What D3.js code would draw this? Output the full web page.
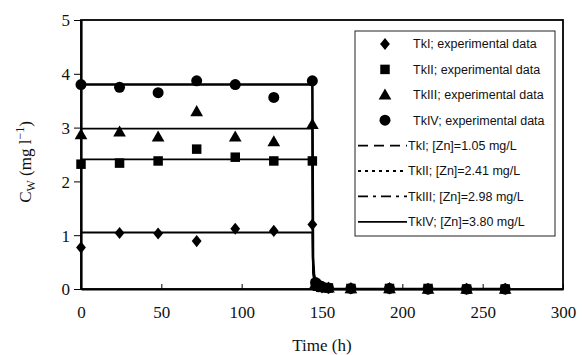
<!DOCTYPE html>
<html>
<head>
<meta charset="utf-8">
<script src="https://cdn.jsdelivr.net/npm/d3@7"></script>
<style>
  body { margin: 0; background: #fff; }
  svg { display: block; }
</style>
</head>
<body>
<div id="container"></div>
<script>
// experimental sampling times (h)
const expTimes = [0, 24, 48, 72, 96, 120, 144, 146, 148, 150, 154, 168, 192, 216, 240, 264];

// measured concentrations per tank (mg/l)
const tk1Exp = [0.77, 1.04, 1.03, 0.89, 1.12, 1.08, 1.20, 0.08, 0.05, 0.03, 0.02, 0.01, 0.01, 0.0, 0.0, 0.0];
const tk2Exp = [2.32, 2.34, 2.38, 2.60, 2.45, 2.38, 2.38, 0.10, 0.06, 0.03, 0.02, 0.01, 0.01, 0.01, 0.0, 0.0];
const tk3Exp = [2.87, 2.92, 2.83, 3.30, 2.83, 2.74, 3.06, 0.10, 0.05, 0.03, 0.02, 0.01, 0.01, 0.0, 0.0, 0.0];
const tk4Exp = [3.80, 3.75, 3.65, 3.87, 3.80, 3.56, 3.87, 0.12, 0.07, 0.04, 0.02, 0.01, 0.01, 0.0, 0.0, 0.0];

// model curves
const modelTimes = [0, 144, 144.4, 145, 146, 148, 151, 156, 264];
const tk1Model = [1.05, 1.05, 0.30, 0.15, 0.08, 0.04, 0.02, 0.0, 0.0];
const tk2Model = [2.41, 2.41, 0.45, 0.22, 0.11, 0.05, 0.02, 0.0, 0.0];
const tk3Model = [2.98, 2.98, 0.50, 0.25, 0.12, 0.05, 0.02, 0.0, 0.0];
const tk4Model = [3.80, 3.80, 0.60, 0.28, 0.13, 0.06, 0.02, 0.0, 0.0];

const xTicks = [0, 50, 100, 150, 200, 250, 300];
const yTicks = [0, 1, 2, 3, 4, 5];

const legendLabels = [
  'TkI; experimental data',
  'TkII; experimental data',
  'TkIII; experimental data',
  'TkIV; experimental data',
  'TkI; [Zn]=1.05 mg/L',
  'TkII; [Zn]=2.41 mg/L',
  'TkIII; [Zn]=2.98 mg/L',
  'TkIV; [Zn]=3.80 mg/L'
];

const width = 582, height = 355;
const margin = { top: 20, right: 19, bottom: 66, left: 81 };
const w = width - margin.left - margin.right;
const h = height - margin.top - margin.bottom;

const svg = d3.select('#container').append('svg')
  .attr('width', width)
  .attr('height', height);

const g = svg.append('g')
  .attr('transform', `translate(${margin.left},${margin.top})`);

const x = d3.scaleLinear().domain([0, 300]).range([0, w]);
const y = d3.scaleLinear().domain([0, 5]).range([h, 0]);

// frame (top & right)
g.append('rect')
  .attr('x', 0).attr('y', 0)
  .attr('width', w).attr('height', h)
  .attr('fill', 'none')
  .attr('stroke', '#000')
  .attr('stroke-width', 1.8);

// axes
const xAxis = g.append('g')
  .attr('transform', `translate(0,${h})`)
  .call(d3.axisBottom(x).tickValues(xTicks).tickFormat(d3.format('d'))
    .tickSizeInner(-5).tickSizeOuter(0).tickPadding(17));
const yAxis = g.append('g')
  .call(d3.axisLeft(y).tickValues(yTicks).tickFormat(d3.format('d'))
    .tickSizeInner(7).tickSizeOuter(0).tickPadding(4));

[xAxis, yAxis].forEach(a => {
  a.attr('font-family', null);
  a.select('.domain').attr('stroke', '#000').attr('stroke-width', 2.2);
  a.selectAll('.tick line').attr('stroke', '#000').attr('stroke-width', 1);
  a.selectAll('.tick text')
    .attr('fill', '#111')
    .style('font-family', '"Liberation Serif", "DejaVu Serif", serif')
    .style('font-size', '17px');
});
yAxis.selectAll('.tick text').attr('dy', '0.35em');

// axis titles
svg.append('text')
  .attr('x', margin.left + w / 2)
  .attr('y', 351)
  .attr('text-anchor', 'middle')
  .style('font-family', '"Liberation Serif", serif')
  .style('font-size', '17px')
  .attr('fill', '#111')
  .text('Time (h)');

const yl = svg.append('text')
  .attr('transform', 'translate(31,162) rotate(-90)')
  .attr('text-anchor', 'middle')
  .style('font-family', '"Liberation Serif", serif')
  .style('font-size', '17px')
  .attr('fill', '#111');
yl.append('tspan').text('C');
yl.append('tspan').attr('dy', 4).style('font-size', '12px').text('W');
yl.append('tspan').attr('dy', -4).text(' (mg l');
yl.append('tspan').attr('dy', -7).style('font-size', '12px').text('\u22121');
yl.append('tspan').attr('dy', 7).text(')');

// model lines
const models = [tk1Model, tk2Model, tk3Model, tk4Model];
const modelWidths = [1.8, 1.8, 1.8, 2.6];
const line = d3.line()
  .x(d => x(d[0]))
  .y(d => y(d[1]));

models.forEach((vals, i) => {
  g.append('path')
    .datum(modelTimes.map((t, j) => [t, vals[j]]))
    .attr('d', line)
    .attr('fill', 'none')
    .attr('stroke', '#000')
    .attr('stroke-width', modelWidths[i]);
});

// symbols
const symbolTypes = [d3.symbolDiamond, d3.symbolSquare, d3.symbolTriangle, d3.symbolCircle];
const symbolSizes = [58, 90, 70, 95];
const expSeries = [tk1Exp, tk2Exp, tk3Exp, tk4Exp];

expSeries.forEach((vals, i) => {
  const sym = d3.symbol().type(symbolTypes[i]).size(symbolSizes[i]);
  g.append('g').selectAll('path')
    .data(expTimes.map((t, j) => [t, vals[j]]))
    .enter()
    .append('path')
    .attr('d', sym)
    .attr('transform', d => {
      const dy = i === 2 ? 1 : 0;
      return `translate(${x(d[0])},${y(d[1]) + dy})` + (i === 0 ? ' scale(1.2,0.85)' : '');
    })
    .attr('fill', '#000');
});

// legend
const legend = svg.append('g').attr('transform', 'translate(355,31)');
legend.append('rect')
  .attr('x', 0).attr('y', 0)
  .attr('width', 200).attr('height', 205)
  .attr('fill', '#fff')
  .attr('stroke', '#222')
  .attr('stroke-width', 1);

const dashes = ['10,6', '3,4', '10,5,3,5', null];
legendLabels.forEach((lab, i) => {
  const ly = 13 + i * 25.4;
  if (i < 4) {
    const sym = d3.symbol().type(symbolTypes[i]).size(symbolSizes[i]);
    legend.append('path')
      .attr('d', sym)
      .attr('transform', `translate(30,${ly + (i === 2 ? 1 : 0)})` + (i === 0 ? ' scale(1.2,0.85)' : ''))
      .attr('fill', '#000');
  } else {
    legend.append('line')
      .attr('x1', 3).attr('x2', 52)
      .attr('y1', ly).attr('y2', ly)
      .attr('stroke', '#000')
      .attr('stroke-width', 1.8)
      .attr('stroke-dasharray', dashes[i - 4]);
  }
  legend.append('text')
    .attr('x', i < 4 ? 58 : 53)
    .attr('y', ly)
    .attr('dy', '0.35em')
    .style('font-family', '"Liberation Sans", Arial, sans-serif')
    .style('font-size', '12.5px')
    .attr('fill', '#111')
    .text(lab);
});
</script>
</body>
</html>
